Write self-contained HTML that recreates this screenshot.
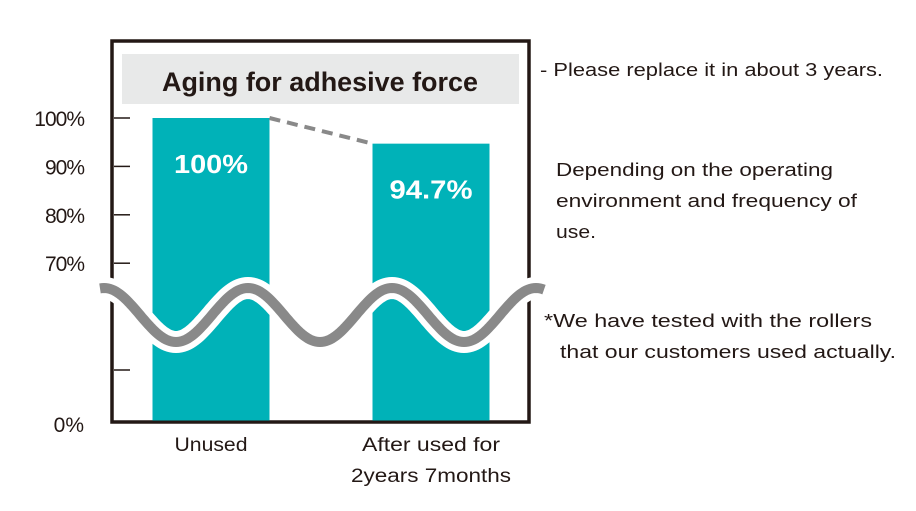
<!DOCTYPE html>
<html><head><meta charset="utf-8"><style>
body{margin:0;background:#fff;width:916px;height:506px;overflow:hidden}
svg text{font-family:"Liberation Sans","DejaVu Sans",sans-serif}
</style></head><body>
<svg id="c" width="916" height="506" xmlns="http://www.w3.org/2000/svg">
<rect x="112" y="41" width="417" height="381" fill="none" stroke="#231815" stroke-width="3.5"/>
<rect x="122" y="54" width="397" height="50" fill="#e8e9e9"/>
<text x="162" y="91" textLength="316" lengthAdjust="spacingAndGlyphs" font-size="27" font-weight="bold" fill="#231815">Aging for adhesive force</text>
<g id="ticks"></g><g id="bars"></g><g id="wave"></g><g id="labels"></g>
<text x="540" y="76" textLength="343" lengthAdjust="spacingAndGlyphs" font-size="18" fill="#231815">- Please replace it in about 3 years.</text>
<g font-size="18" fill="#231815">
<text x="556" y="176" textLength="277" lengthAdjust="spacingAndGlyphs">Depending on the operating</text>
<text x="556" y="207" textLength="301" lengthAdjust="spacingAndGlyphs">environment and frequency of</text>
<text x="556" y="238" textLength="40" lengthAdjust="spacingAndGlyphs">use.</text></g>
<g font-size="18" fill="#231815">
<text x="544" y="327" textLength="328" lengthAdjust="spacingAndGlyphs">*We have tested with the rollers</text>
<text x="560" y="358" textLength="336" lengthAdjust="spacingAndGlyphs">that our customers used actually.</text></g>
</svg>
<script>
const categories=["Unused","After used for|2years 7months"];
const values=[100,94.7];
const valueLabels=["100%","94.7%"];
const tickValues=[100,90,80,70];
const tickLabels=["100%","90%","80%","70%"];
const NS="http://www.w3.org/2000/svg";
function y(v){return 118+(100-v)*4.84;}
function xc(i){return 211+i*220;}
function mk(p,tag,a){const e=document.createElementNS(NS,tag);for(const k in a)e.setAttribute(k,a[k]);p.appendChild(e);return e;}
const T=document.getElementById('ticks'),B=document.getElementById('bars'),W=document.getElementById('wave'),L=document.getElementById('labels');
tickValues.forEach((v,i)=>{
 const t=mk(T,'line',{x1:114,x2:130,y1:y(v),y2:y(v),stroke:'#231815','stroke-width':1.5});
 
 
 const l=mk(T,'text',{x:84,y:y(v)+8,'text-anchor':'end','font-size':21,fill:'#231815','letter-spacing':'-1'});
 l.textContent=tickLabels[i];
 
 
});
const t0=mk(T,'line',{x1:114,x2:130,y1:370,y2:370,stroke:'#231815','stroke-width':1.5});


const l0=mk(T,'text',{x:84,y:432,'text-anchor':'end','font-size':21,fill:'#231815'});l0.textContent="0%";


const catW=[[73],[138,160]];
const valW=[74,83];
values.forEach((v,i)=>{
 const r=mk(B,'rect',{x:xc(i)-58.5,y:y(v),width:117,height:420.5-y(v),fill:'#00b2b8'});
 
 
 const t=mk(L,'text',{x:xc(i),y:y(v)+55,'text-anchor':'middle','font-size':26,'font-weight':'bold',fill:'#fff',textLength:valW[i],lengthAdjust:'spacingAndGlyphs'});
 t.textContent=valueLabels[i];
 
 
 categories[i].split('|').forEach((s,j)=>{
  const c=mk(L,'text',{x:xc(i),y:451+j*31,'text-anchor':'middle','font-size':19,fill:'#231815',textLength:catW[i][j]||100,lengthAdjust:'spacingAndGlyphs'});
  c.textContent=s;
  
  
 });
});
const d=mk(B,'line',{x1:xc(0)+58.5,y1:y(values[0]),x2:xc(1)-58.5,y2:y(values[1]),stroke:'#898989','stroke-width':4,'stroke-dasharray':'11 7'});


let p="";for(let x=100;x<=544;x+=2){p+=(x==100?"M":" L")+x+" "+(315+27*Math.cos((x-176)/72*Math.PI)).toFixed(1);}
const w1=mk(W,'path',{d:p,fill:'none',stroke:'#fff','stroke-width':22});


const w2=mk(W,'path',{d:p,fill:'none',stroke:'#898989','stroke-width':10});


</script>
</body></html>
